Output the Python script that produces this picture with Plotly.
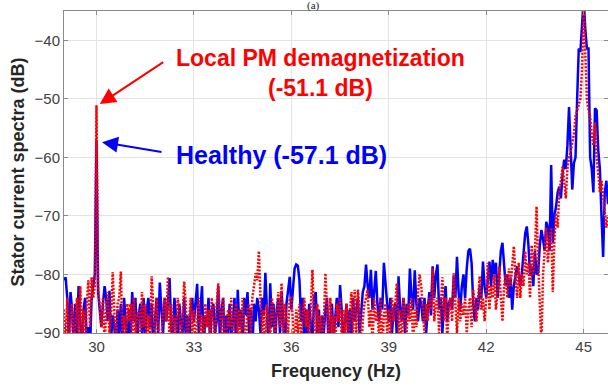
import numpy as np
import plotly.graph_objects as go

# Frequency grid (Hz)
f_start, f_step = 29.0, 0.05

# Healthy (blue), dB, rows of 1 Hz (29.00 .. 45.75)
b29 = [-81, -80.5, -84, -92, -83, -86, -93, -85, -90, -82, -88, -93, -86, -84, -91, -89, -93, -84, -82, -80]
b30 = [-57.1, -83, -86, -89, -85, -82, -84, -88, -82.8, -91, -87, -89, -93, -86, -90, -85, -92, -84, -88, -93]
b31 = [-86, -91, -83, -88, -84, -93, -87, -85, -90, -84, -92, -86, -84, -89, -85, -93, -88, -84, -90, -81.4]
b32 = [-86, -90, -84, -88, -85, -80.6, -89, -92, -84, -87, -93, -85, -88, -90, -84, -91, -87, -93, -86, -84]
b33 = [-88, -84, -81.6, -90, -85, -82, -93, -87, -89, -84, -92, -86, -85, -90, -88, -82, -91, -86, -84, -93]
b34 = [-87, -90, -85, -91, -88, -84, -93, -82.6, -89, -86, -92, -84, -87, -83, -90, -86, -93, -85, -88, -84]
b35 = [-86, -90, -84, -87, -79.7, -88, -93, -81.5, -89, -85, -92, -86, -84, -90, -83, -88, -93, -85, -82, -80.4]
b36 = [-86, -82, -79, -78.3, -78.5, -81, -88, -84, -93, -86, -90, -85, -88, -92, -84, -83, -90, -86, -93, -87]
b37 = [-90, -86, -84, -93, -88, -85, -91, -87, -84, -89, -81.8, -86, -93, -88, -85, -90, -86, -92, -84, -88]
b38 = [-86, -84, -90, -86, -83, -82, -78.3, -82, -84, -79.2, -86, -83, -79.4, -85, -88, -84, -86, -78, -82, -85]
b39 = [-88, -84, -90, -86, -85, -91, -80.3, -86, -88, -84, -90, -85, -87, -79, -84, -86, -79.3, -85, -88, -84]
b40 = [-85, -88, -84, -90, -86, -83, -87, -78.6, -84, -80, -78.3, -86, -84, -90, -85, -82, -88, -85, -84, -86]
b41 = [-80.2, -84, -77, -83, -86, -82, -80, -84, -79, -76, -75.6, -78, -85, -88, -84, -86, -82, -84, -77.8, -82]
b42 = [-84, -80, -77.8, -82, -77.5, -80, -78, -84, -80, -76, -74.6, -78, -82, -80, -84, -80.5, -86, -82, -80, -78.6]
b43 = [-80, -82, -79.7, -76, -73, -71.8, -75, -80, -78.6, -82, -76, -80, -79.7, -75, -72.4, -74, -76, -71, -72, -76]
b44 = [-61.3, -74.6, -70, -68.4, -66, -65, -67, -63, -60.4, -62, -58, -51.4, -58, -65.5, -61, -60, -50, -41.4, -42, -38]
b45 = [-33, -38, -41.4, -41.4, -60, -62, -66, -51.6, -52, -58.8, -62, -70, -77, -66, -64, -68]

# Local PM demagnetization (red), dB
r29 = [-86, -92, -84, -93, -88, -85, -92, -87, -84, -93, -82, -90, -86, -93, -85, -81, -89, -80.5, -84, -82]
r30 = [-51.1, -82, -85, -89, -84, -92, -86, -83, -90, -87, -79.6, -88, -93, -85, -84, -79.5, -91, -87, -93, -85]
r31 = [-88, -85, -93, -84, -90, -87, -86, -92, -83, -89, -85, -93, -87, -91, -80.3, -86, -92, -84, -88, -93]
r32 = [-91, -86, -84, -88, -80.4, -92, -85, -90, -87, -93, -84, -86, -91, -88, -81.2, -85, -92, -87, -84, -90]
r33 = [-86, -92, -88, -84, -90, -87, -93, -85, -89, -86, -91, -84, -88, -93, -85, -81.5, -87, -90, -84, -92]
r34 = [-91, -86, -89, -84, -93, -87, -85, -90, -86, -92, -84, -88, -93, -86, -85, -90, -84, -82, -79.8, -81]
r35 = [-76, -84, -90, -86, -93, -85, -88, -91, -84, -87, -92, -86, -83, -89, -81.5, -93, -85, -88, -90, -84]
r36 = [-84, -88, -93, -86, -90, -85, -91, -87, -84, -89, -86, -92, -84, -79.2, -88, -93, -85, -90, -87, -92]
r37 = [-88, -79.8, -86, -92, -84, -90, -87, -93, -85, -88, -84, -91, -86, -90, -85, -93, -87, -83, -90, -82.6]
r38 = [-90, -82.6, -86, -93, -88, -85, -84, -82.6, -89, -86, -92, -84, -88, -86, -91, -84, -93, -87, -85, -90]
r39 = [-86, -92, -84, -88, -85, -81.5, -90, -86, -93, -84, -87, -90, -85, -88, -84, -92, -86, -89, -83, -80]
r40 = [-82, -87, -90, -85, -88, -84, -86, -79, -88, -85, -84, -90, -86, -80.5, -88, -84, -91, -86, -84, -88]
r41 = [-79.8, -86, -90, -84, -88, -85, -87, -84, -90, -86, -84, -89, -82.6, -85, -88, -84, -80.3, -86, -84, -88]
r42 = [-84, -78, -86, -82, -84, -80, -86, -83, -78.6, -84, -88, -82, -80, -84, -79, -82, -78, -75.2, -80, -84]
r43 = [-78, -84, -80, -82, -76, -80, -78, -84, -75, -80, -76, -68.4, -78, -86, -92, -80, -76, -72, -78, -74]
r44 = [-72, -83, -74, -69.5, -72, -66, -64, -61.6, -64, -67, -62, -60, -59, -57.6, -56, -53, -52, -51, -50, -45]
r45 = [-33, -42, -50, -52, -53, -56, -58, -54, -60, -62.7, -66, -64, -67, -69.5, -72, -70]

healthy = b29 + b30 + b31 + b32 + b33 + b34 + b35 + b36 + b37 + b38 + b39 + b40 + b41 + b42 + b43 + b44 + b45
faulty = r29 + r30 + r31 + r32 + r33 + r34 + r35 + r36 + r37 + r38 + r39 + r40 + r41 + r42 + r43 + r44 + r45
freq = np.round(f_start + f_step * np.arange(len(healthy)), 2)

x_ticks = [30, 33, 36, 39, 42, 45]
y_ticks = [-90, -80, -70, -60, -50, -40]

fig = go.Figure()
fig.add_trace(go.Scatter(x=freq, y=healthy, mode="lines", name="Healthy",
                         line=dict(color="#0000FF", width=2.5)))
fig.add_trace(go.Scatter(x=freq, y=faulty, mode="lines", name="Local PM demagnetization",
                         line=dict(color="#FF0000", width=2.5, dash="2px,1.5px")))

axis_common = dict(showgrid=True, gridcolor="#e3e3e3", gridwidth=1,
                   showline=True, linecolor="#8a8a8a", linewidth=1, mirror="ticks",
                   ticks="inside", ticklen=4, tickcolor="#8a8a8a", zeroline=False,
                   tickfont=dict(family="Liberation Sans, Arial", size=15, color="#404040"))

fig.update_layout(
    width=608, height=389,
    margin=dict(l=64, r=0, t=11, b=56),
    paper_bgcolor="white", plot_bgcolor="white",
    showlegend=False,
    xaxis=dict(range=[29, 45.75], tickvals=x_ticks, **axis_common,
               title=dict(text="<b>Frequency (Hz)</b>", standoff=10,
                          font=dict(family="Liberation Sans, Arial", size=18, color="#262626"))),
    yaxis=dict(range=[-90, -35], tickvals=y_ticks, **axis_common,
               title=dict(text="<b>Stator current spectra (dB)</b>", standoff=5,
                          font=dict(family="Liberation Sans, Arial", size=18, color="#262626"))),
)

txt_font = dict(family="Liberation Sans, Arial")
fig.add_annotation(x=36.91, y=-43.1, text="<b>Local PM demagnetization</b>", showarrow=False,
                   font=dict(color="#FF0000", size=23, **txt_font))
fig.add_annotation(x=36.91, y=-48.2, text="<b>(-51.1 dB)</b>", showarrow=False,
                   font=dict(color="#FF0000", size=23, **txt_font))
fig.add_annotation(x=35.71, y=-59.6, text="<b>Healthy (-57.1 dB)</b>", showarrow=False,
                   font=dict(color="#0000FF", size=25, **txt_font))
# arrows
fig.add_annotation(x=30.1, y=-50.9, ax=65, ay=-43, text="", showarrow=True,
                   arrowhead=2, arrowsize=1.6, arrowwidth=2, arrowcolor="#FF0000", standoff=0)
fig.add_annotation(x=30.17, y=-57.4, ax=61, ay=10, text="", showarrow=True,
                   arrowhead=2, arrowsize=1.6, arrowwidth=2, arrowcolor="#0000FF", standoff=0)
# panel label at the very top
fig.add_annotation(xref="paper", yref="paper", x=(313 - 64) / 544, y=1, yanchor="bottom",
                   yshift=-2, text="(a)", showarrow=False, borderpad=0,
                   font=dict(family="Liberation Serif, Times New Roman", size=11, color="#222222"))

fig.write_html("out.html")
